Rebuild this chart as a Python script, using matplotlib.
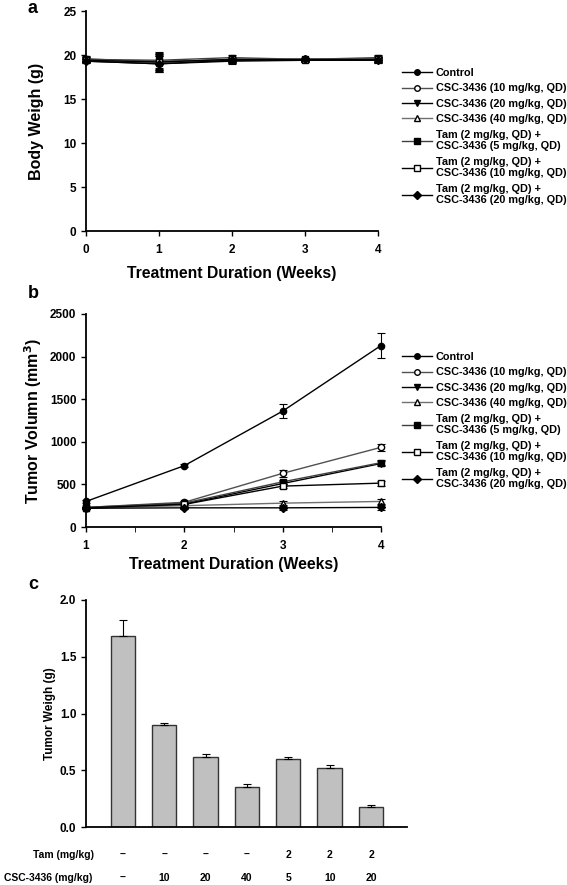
import matplotlib
matplotlib.use("Agg")
import matplotlib.pyplot as plt
from matplotlib.lines import Line2D
from matplotlib.transforms import blended_transform_factory
import numpy as np

plt.rcParams['font.family'] = ['Liberation Sans', 'DejaVu Sans']
plt.rcParams['font.weight'] = 'bold'

# ---- data ----
labels = ["Control",
          "CSC-3436 (10 mg/kg, QD)",
          "CSC-3436 (20 mg/kg, QD)",
          "CSC-3436 (40 mg/kg, QD)",
          "Tam (2 mg/kg, QD) +\nCSC-3436 (5 mg/kg, QD)",
          "Tam (2 mg/kg, QD) +\nCSC-3436 (10 mg/kg, QD)",
          "Tam (2 mg/kg, QD) +\nCSC-3436 (20 mg/kg, QD)"]
markers = ['o', 'o', 'v', '^', 's', 's', 'D']
filled = [True, False, True, False, True, False, True]
line_colors = ['black', '#505050', 'black', '#707070', '#404040', 'black', 'black']

# panel a: body weight
weeks_a = [0, 1, 2, 3, 4]
bw_control = [19.5, 19.2, 19.5, 19.5, 19.5]
bw_csc10 = [19.4, 19.3, 19.4, 19.5, 19.5]
bw_csc20 = [19.3, 19.0, 19.3, 19.4, 19.4]
bw_csc40 = [19.6, 19.1, 19.5, 19.5, 19.6]
bw_tam5 = [19.5, 19.4, 19.7, 19.5, 19.7]
bw_tam10 = [19.4, 19.2, 19.5, 19.4, 19.5]
bw_tam20 = [19.3, 19.0, 19.4, 19.5, 19.4]
bw_err = [0.25, 0.9, 0.3, 0.2, 0.3]

# panel b: tumor volume
weeks_b = [1, 2, 3, 4]
tv_control = [300, 720, 1360, 2130]
tv_csc10 = [230, 290, 630, 935]
tv_csc20 = [220, 270, 510, 745]
tv_csc40 = [225, 250, 280, 300]
tv_tam5 = [230, 280, 530, 755]
tv_tam10 = [225, 265, 480, 515]
tv_tam20 = [220, 225, 225, 230]
tv_err_control = [20, 20, 85, 150]
tv_err_csc10 = [10, 15, 40, 45]
tv_err_small = [10, 15, 25, 30]

# panel c: tumor weight
tw_values = [1.68, 0.90, 0.62, 0.35, 0.60, 0.52, 0.18]
tw_err = [0.14, 0.02, 0.025, 0.025, 0.02, 0.03, 0.01]
tam_row = ['–', '–', '–', '–', '2', '2', '2']
csc_row = ['–', '10', '20', '40', '5', '10', '20']

W, H = 567, 885
fig = plt.figure(figsize=(W / 100, H / 100), dpi=100)

def px_axes(l, r, t, b):
    return fig.add_axes([l / W, 1 - b / H, (r - l) / W, (b - t) / H])

def style(ax):
    ax.spines['top'].set_visible(False)
    ax.spines['right'].set_visible(False)
    ax.spines['left'].set_linewidth(1.3)
    ax.spines['bottom'].set_linewidth(1.3)
    ax.tick_params(direction='out', length=3.5, width=1, labelsize=8.5)
    for t in ax.get_xticklabels() + ax.get_yticklabels():
        t.set_fontweight('bold')

def add_lines(ax, x, series, errs):
    for i, ys in enumerate(series):
        eb = ax.errorbar(x, ys, yerr=errs[i], color=line_colors[i], lw=1,
                         marker=markers[i], ms=4.5,
                         mfc='black' if filled[i] else 'white', mec='black',
                         ecolor='black', elinewidth=0.8, capsize=3, capthick=0.8)
        for art in eb.get_children():
            art.set_clip_on(False)

def add_legend(ax, y_top):
    handles = [Line2D([], [], color=line_colors[i], lw=1, marker=markers[i], ms=4,
                      mfc='black' if filled[i] else 'white', mec='black')
               for i in range(7)]
    fig.legend(handles, labels, loc='upper left',
               bbox_to_anchor=(402 / W, 1 - y_top / H), frameon=False,
               prop={'size': 7.8, 'weight': 'bold'}, handlelength=2.8,
               handletextpad=0.3, labelspacing=0.5, borderaxespad=0,
               borderpad=0)

# ---- panel a ----
axa = px_axes(86, 378, 11, 231)
add_lines(axa, weeks_a, [bw_control, bw_csc10, bw_csc20, bw_csc40, bw_tam5, bw_tam10, bw_tam20],
          [bw_err] * 7)
axa.set_xlim(0, 4)
axa.set_ylim(0, 25)
axa.set_xticks(weeks_a)
axa.set_yticks([0, 5, 10, 15, 20, 25])
axa.tick_params(axis='x', pad=6)
style(axa)
axa.set_xlabel('Treatment Duration (Weeks)', fontsize=11.3, fontweight='bold')
axa.xaxis.set_label_coords(0.5, -0.16)
axa.set_ylabel('Body Weigh (g)', fontsize=11.5, fontweight='bold', va='center')
axa.yaxis.set_label_coords(-0.168, 0.5)
add_legend(axa, 68)

# ---- panel b ----
axb = px_axes(86, 381, 314, 527)
add_lines(axb, weeks_b, [tv_control, tv_csc10, tv_csc20, tv_csc40, tv_tam5, tv_tam10, tv_tam20],
          [tv_err_control, tv_err_csc10, tv_err_small, tv_err_small, tv_err_small,
           tv_err_small, tv_err_small])
axb.set_xlim(1, 4)
axb.set_ylim(0, 2500)
axb.set_xticks(weeks_b)
axb.set_xticks([1.5, 2.5, 3.5], minor=True)
axb.set_yticks([0, 500, 1000, 1500, 2000, 2500])
axb.tick_params(axis='x', which='both', direction='out', length=3.5, pad=6)
style(axb)
axb.set_xlabel('Treatment Duration (Weeks)', fontsize=11.3, fontweight='bold')
axb.xaxis.set_label_coords(0.5, -0.14)
axb.set_ylabel('Tumor Volumn (mm$^\\mathbf{3}$)', fontsize=11.5, fontweight='bold', va='center')
axb.yaxis.set_label_coords(-0.18, 0.5)
add_legend(axb, 352)

# ---- panel c ----
axc = px_axes(86, 407, 600, 827)
xc = np.arange(len(tw_values))
axc.bar(xc, tw_values, width=0.59, color='#c0c0c0', edgecolor='#333333', lw=1,
        yerr=[np.zeros(len(tw_err)), tw_err],
        error_kw=dict(ecolor='black', elinewidth=0.8, capsize=3, capthick=0.8))
axc.set_xlim(-0.89, 6.87)
axc.set_ylim(0, 2.0)
axc.set_yticks([0, 0.5, 1.0, 1.5, 2.0])
axc.set_yticklabels(['0.0', '0.5', '1.0', '1.5', '2.0'])
axc.set_xticks([])
style(axc)
axc.set_ylabel('Tumor Weigh (g)', fontsize=8.5, fontweight='bold', va='center')
axc.yaxis.set_label_coords(-0.112, 0.5)

tr = blended_transform_factory(axc.transData, fig.transFigure)
for i in range(len(tw_values)):
    axc.text(xc[i], 1 - 855 / H, tam_row[i], transform=tr, ha='center', va='center',
             fontsize=7.5, fontweight='bold')
    axc.text(xc[i], 1 - 878 / H, csc_row[i], transform=tr, ha='center', va='center',
             fontsize=7.5, fontweight='bold')
fig.text(94 / W, 1 - 855 / H, 'Tam (mg/kg)', ha='right', va='center', fontsize=7.5, fontweight='bold')
fig.text(92 / W, 1 - 878 / H, 'CSC-3436 (mg/kg)', ha='right', va='center', fontsize=7.5, fontweight='bold')

# panel letters
for letter, y in [('a', 0), ('b', 285), ('c', 576)]:
    fig.text(33 / W, 1 - y / H, letter, ha='center', va='top', fontsize=13, fontweight='bold')

fig.savefig('out.png', dpi=100)
